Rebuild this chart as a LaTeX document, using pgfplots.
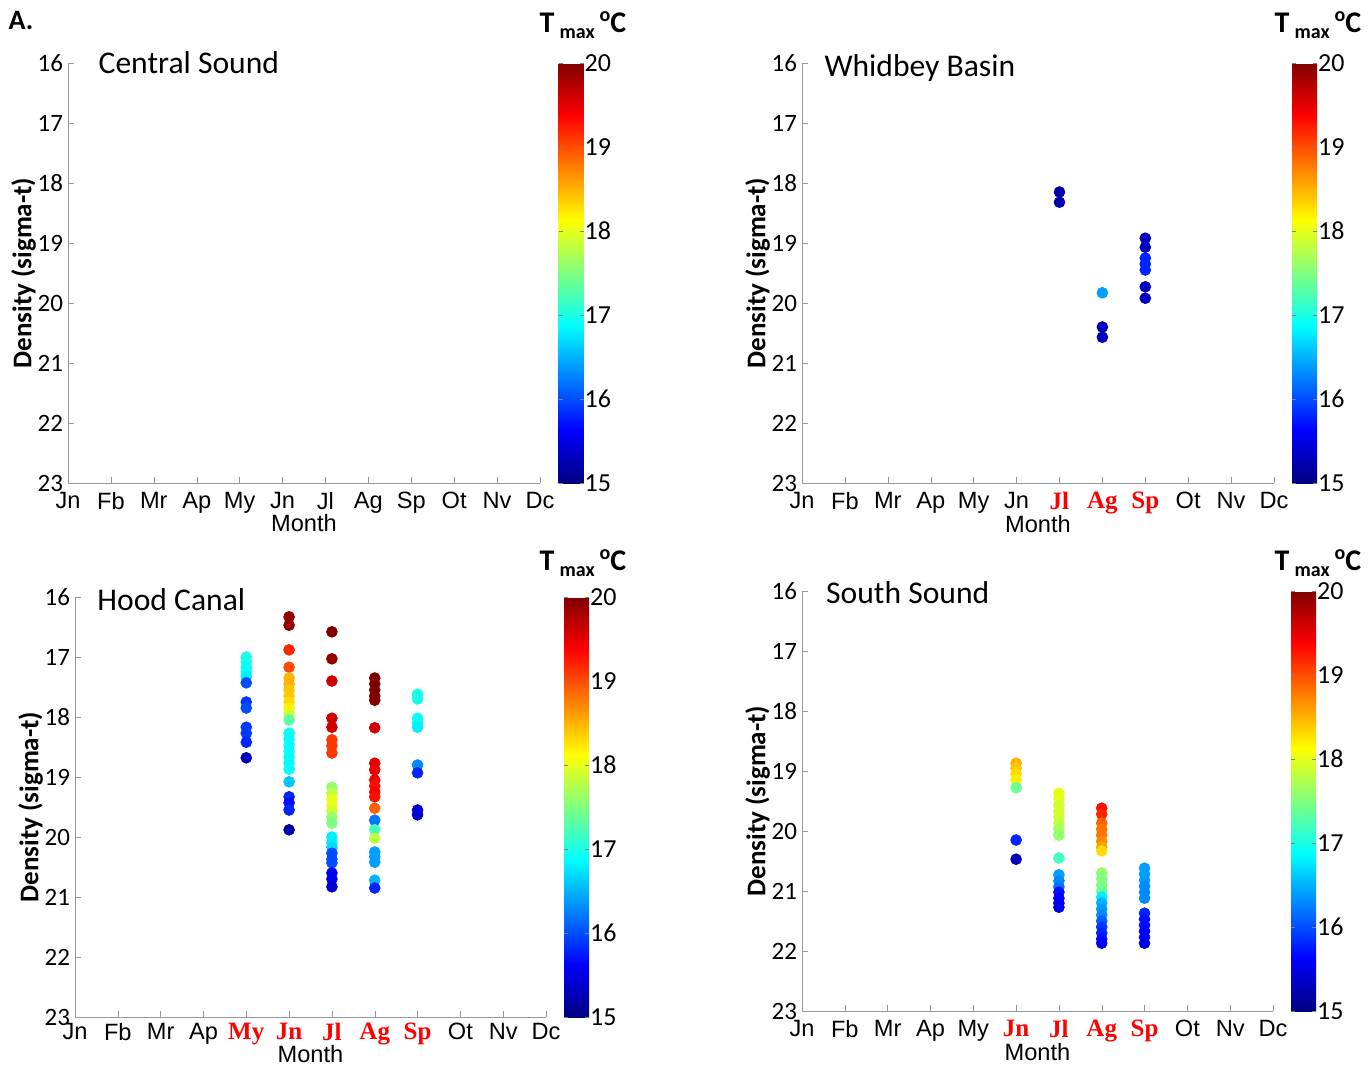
\documentclass[border=0pt]{standalone}
\usepackage{pgfplots}
\usepackage{pgfplotstable}
\pgfplotsset{compat=1.18}
\usepackage{fontspec}
\setmainfont{Liberation Sans}
\newfontfamily\calfont{Carlito}
\newfontfamily\rser{Liberation Serif}
\newcommand\R[1]{\textcolor{red}{\rser\bfseries\fontsize{12.5}{13}\selectfont #1}}

\pgfplotstableread{
x y t
7 18.15 15.2
7 18.32 15.2
8 19.83 16.4
8 20.40 15.3
8 20.57 15.3
9 18.92 15.3
9 19.07 15.3
9 19.25 15.8
9 19.35 15.8
9 19.45 15.8
9 19.73 15.3
9 19.92 15.3
}\whidbey

\pgfplotstableread{
x y t
5 17.00 17.0
5 17.08 17.0
5 17.17 16.9
5 17.25 16.9
5 17.33 16.8
5 17.43 16.0
5 17.75 15.9
5 17.85 16.0
5 18.17 15.9
5 18.27 15.9
5 18.42 15.8
5 18.68 15.3
6 16.33 19.9
6 16.47 19.9
6 16.88 19.2
6 17.17 19.0
6 17.35 18.5
6 17.45 18.5
6 17.55 18.4
6 17.65 18.4
6 17.75 18.3
6 17.85 18.2
6 17.95 17.9
6 18.05 17.3
6 18.27 16.9
6 18.37 16.9
6 18.47 16.9
6 18.57 16.9
6 18.67 16.9
6 18.77 16.9
6 18.87 16.9
6 19.08 16.6
6 19.33 15.8
6 19.43 15.7
6 19.55 15.8
6 19.88 15.2
7 16.58 20.0
7 17.03 19.9
7 17.40 19.6
7 18.02 19.6
7 18.17 19.6
7 18.38 19.1
7 18.48 19.1
7 18.60 19.1
7 19.17 17.6
7 19.27 17.8
7 19.37 18.0
7 19.47 18.0
7 19.57 17.9
7 19.67 17.6
7 19.77 17.5
7 20.00 16.8
7 20.10 16.8
7 20.17 16.7
7 20.27 16.0
7 20.37 16.0
7 20.43 16.0
7 20.60 15.6
7 20.70 15.6
7 20.83 15.4
8 17.35 20.0
8 17.45 20.0
8 17.55 20.0
8 17.65 20.0
8 17.72 20.0
8 18.18 19.6
8 18.77 19.5
8 18.88 19.5
8 19.05 19.4
8 19.15 19.3
8 19.25 19.4
8 19.33 19.3
8 19.52 18.9
8 19.72 16.2
8 19.88 17.2
8 20.02 17.8
8 20.25 16.4
8 20.33 16.4
8 20.42 16.4
8 20.72 16.5
8 20.85 15.8
9 17.62 17.0
9 17.70 17.0
9 18.02 16.9
9 18.10 16.9
9 18.17 16.8
9 18.80 16.3
9 18.93 15.8
9 19.55 15.4
9 19.63 15.4
}\hood

\pgfplotstableread{
x y t
6 18.87 18.5
6 18.95 18.4
6 19.05 18.3
6 19.15 18.2
6 19.28 17.4
6 20.15 15.8
6 20.47 15.3
7 19.37 18.0
7 19.47 18.0
7 19.57 17.9
7 19.67 17.9
7 19.77 17.9
7 19.87 17.8
7 19.97 17.7
7 20.07 17.6
7 20.45 17.2
7 20.73 16.4
7 20.83 16.3
7 20.93 16.2
7 21.02 15.7
7 21.12 15.6
7 21.20 15.6
7 21.27 15.5
8 19.62 19.3
8 19.72 19.2
8 19.87 18.9
8 19.97 18.8
8 20.07 18.8
8 20.17 18.7
8 20.27 18.6
8 20.33 18.3
8 20.70 17.6
8 20.80 17.5
8 20.90 17.5
8 21.00 17.4
8 21.10 16.8
8 21.20 16.5
8 21.30 16.4
8 21.40 16.3
8 21.50 16.1
8 21.60 15.9
8 21.70 15.8
8 21.80 15.7
8 21.87 15.6
9 20.62 16.4
9 20.72 16.4
9 20.82 16.4
9 20.92 16.3
9 21.02 16.3
9 21.12 16.3
9 21.37 15.8
9 21.47 15.7
9 21.57 15.7
9 21.67 15.6
9 21.77 15.6
9 21.87 15.5
}\south

\pgfplotsset{
  panel/.style={
    scale only axis, height=210pt,
    xmin=1, xmax=12, ymin=16, ymax=23, y dir=reverse,
    axis x line*=bottom, axis y line*=left,
    axis line style={-, gray!80},
    xtick={1,...,12}, ytick={16,...,23},
    tick align=inside, major tick length=3pt, tick style={gray!80},
    xticklabel style={font=\fontsize{11.8}{12}\selectfont, inner sep=1pt, yshift=-3.5pt},
    yticklabel style={font=\calfont\fontsize{12.5}{13}\selectfont, xshift=1pt},
    /pgf/number format/assume math mode=true,
    ylabel={Density (sigma-t)},
    ylabel style={font=\calfont\bfseries\fontsize{13.5}{14}\selectfont, yshift=-6pt},
    xlabel style={font=\fontsize{11.8}{12}\selectfont, yshift=4pt},
    clip=false,
    colormap/jet, point meta min=15, point meta max=20,
    colorbar,
    colorbar style={
      scale only axis, width=12.5pt, height=210pt, y dir=normal,
      at={(parent axis.north east)}, anchor=north west, xshift=0.5pt,
      ytick={15,...,20}, major tick length=2pt, tick style={gray},
      axis line style={draw=none},
      yticklabel style={font=\calfont\fontsize{13}{13}\selectfont, xshift=-3pt},
      /pgf/number format/assume math mode=true,
    },
  },
  pts/.style={scatter, only marks, mark=*, mark size=2.7pt,
    scatter src=explicit,
    scatter/use mapped color={draw=mapped color, fill=mapped color}},
}
\newcommand\tmax{{\calfont\bfseries\fontsize{15}{16}\selectfont T\,\raisebox{-0.45ex}{\fontsize{10}{10}\selectfont max}\,\raisebox{0.75ex}{\fontsize{10}{10}\selectfont o}C}}
\newcommand\ttl{\calfont\fontsize{15.8}{16}\selectfont}

\begin{document}
\begin{tikzpicture}
\useasboundingbox (0,0) rectangle (684.5pt,533.5pt);
\node[font=\calfont\bfseries\fontsize{14}{14}\selectfont] at (10.5pt,523pt) {A.};

% Central Sound
\begin{axis}[panel, at={(34pt,292pt)}, anchor=south west, width=236pt,
  xticklabels={Jn,Fb,Mr,Ap,My,Jn,Jl,Ag,Sp,Ot,Nv,Dc}, xlabel={Month},
  colorbar style={xshift=0.25pt}]
  \node[anchor=west, font=\ttl] at (axis cs:1.55,16.0) {Central Sound};
\end{axis}
\node at (291.5pt,521pt) {\tmax};

% Whidbey Basin
\begin{axis}[panel, at={(401pt,292pt)}, anchor=south west, width=236pt,
  xticklabels={Jn,Fb,Mr,Ap,My,Jn,\R{Jl},\R{Ag},\R{Sp},Ot,Nv,Dc}, xlabel={Month}]
  \addplot[pts] table[x=x, y=y, meta=t] {\whidbey};
  \node[anchor=west, font=\ttl] at (axis cs:1.36,16.08) {Whidbey Basin};
\end{axis}
\node at (659pt,521pt) {\tmax};

% Hood Canal
\begin{axis}[panel, at={(37.5pt,25pt)}, anchor=south west, width=235.5pt,
  xticklabels={Jn,Fb,Mr,Ap,\R{My},\R{Jn},\R{Jl},\R{Ag},\R{Sp},Ot,Nv,Dc}, xlabel={Month},
  xticklabel style={yshift=1.5pt}, xlabel style={yshift=0.4pt}]
  \addplot[pts] table[x=x, y=y, meta=t] {\hood};
  \node[anchor=west, font=\ttl] at (axis cs:1.36,16.05) {Hood Canal};
\end{axis}
\node at (291.5pt,252pt) {\tmax};

% South Sound
\begin{axis}[panel, at={(401pt,28pt)}, anchor=south west, width=235.5pt,
  xticklabels={Jn,Fb,Mr,Ap,My,\R{Jn},\R{Jl},\R{Ag},\R{Sp},Ot,Nv,Dc}, xlabel={Month}]
  \addplot[pts] table[x=x, y=y, meta=t] {\south};
  \node[anchor=west, font=\ttl] at (axis cs:1.4,16.03) {South Sound};
\end{axis}
\node at (659pt,252pt) {\tmax};
\end{tikzpicture}
\end{document}
